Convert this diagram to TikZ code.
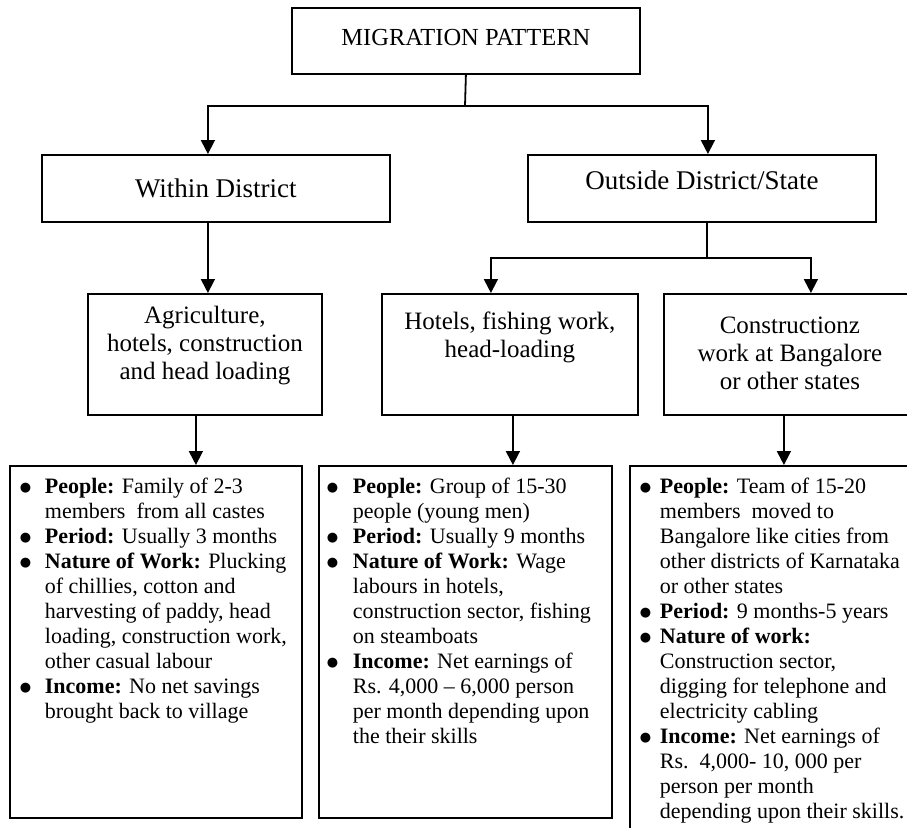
\documentclass[tikz,border=0pt]{standalone}
\usepackage{fontspec}
\setmainfont{Liberation Serif}
\newfontfamily\dotfont{DejaVu Sans}
\usetikzlibrary{positioning,arrows.meta}

\newlength\dotgap
\newlength\textgap
\newcommand{\bigdot}{\raisebox{2.5pt}{\dotfont\fontsize{13}{13}\selectfont ●}}
\newcommand{\firstgap}{\rule{0pt}{28pt}}
\newcommand{\entry}[2]{\par\noindent\hangindent=\textgap\hangafter=1%
  \makebox[\textgap][l]{\hspace{\dotgap}\bigdot}\textbf{#1} #2}
\newcommand{\textbox}[4]{\parbox[c][#2][t]{#1}{\centering
  \fontsize{25}{28}\selectfont\rule{0pt}{#3}#4}}
\newcommand{\listbox}[5]{\parbox[c][#2][t]{#1}{\fontsize{22}{25}\selectfont
  \setlength\dotgap{#3}\setlength\textgap{#4}\parskip=0pt
  \rightskip=-60pt plus 1fil #5}}

\begin{document}
\begin{tikzpicture}[x=1pt,y=-1pt,
    box/.style={draw, line width=1.8pt, inner sep=0pt},
    link/.style={line width=1.8pt},
    tolink/.style={link, -{Triangle[width=14pt,length=14pt]}}]
  \useasboundingbox (0,0) rectangle (907,827);
  \fill[white] (0,0) rectangle (907,827);
  \clip (0,0) rectangle (907,827);

  % top levels
  \node[box, anchor=north west, minimum width=348pt, minimum height=66pt,
    font=\fontsize{24.5}{28}\selectfont, text height=16pt, text depth=6pt]
    (pattern) at (291,7) {MIGRATION PATTERN};
  \node[box, anchor=north west, minimum width=348pt, minimum height=67pt,
    font=\fontsize{27}{30}\selectfont, text height=18pt, text depth=0pt]
    (within) at (41,154) {Within District};
  \node[box, anchor=north west, minimum width=348pt, minimum height=67pt,
    font=\fontsize{27}{30}\selectfont, text height=18pt, text depth=15pt]
    (outside) at (527,154) {Outside District/State};

  % kinds of work
  \node[box, anchor=north west] (agri) at (87,293)
    {\textbox{234pt}{121pt}{30pt}{Agriculture,\\ hotels, construction\\ and head loading}};
  \node[box, anchor=north west] (hotels) at (381,293)
    {\textbox{256pt}{121pt}{36pt}{Hotels, fishing work,\\ head-loading}};
  \node[box, anchor=north west] (construct) at (663,293)
    {\textbox{252pt}{121pt}{40pt}{Constructionz\\ work at Bangalore\\ or other states}};

  % details
  \node[box, anchor=north west] (localinfo) at (9,465)
    {\listbox{292pt}{352pt}{10pt}{35pt}{%
      \entry{People:}{\firstgap Family of 2-3\\ members\ \ from all castes}
      \entry{Period:}{Usually 3 months}
      \entry{Nature of Work:}{Plucking\\ of chillies, cotton and\\ harvesting of paddy, head\\ loading, construction work,\\ other casual labour}
      \entry{Income:}{No net savings\\ brought back to village}}};
  \node[box, anchor=north west] (hotelinfo) at (318,465)
    {\listbox{293pt}{352pt}{8pt}{34pt}{%
      \entry{People:}{\firstgap Group of 15-30\\ people (young men)}
      \entry{Period:}{Usually 9 months}
      \entry{Nature of Work:}{Wage\\ labours in hotels,\\ construction sector, fishing\\ on steamboats}
      \entry{Income:}{Net earnings of\\ Rs. 4,000 -- 6,000 person\\ per month depending upon\\ the their skills}}};
  \node[box, anchor=north west] (buildinfo) at (629,465)
    {\listbox{290pt}{380pt}{10pt}{30pt}{%
      \entry{People:}{\firstgap Team of 15-20\\ members\ \ moved to\\ Bangalore like cities from\\ other districts of Karnataka\\ or other states}
      \entry{Period:}{9 months-5 years}
      \entry{Nature of work:}{\\ Construction sector,\\ digging for telephone and\\ electricity cabling}
      \entry{Income:}{Net earnings of\\ Rs.\ \ 4,000- 10, 000 per\\ person per month\\ depending upon their skills.}}};

  % connectors
  \coordinate (fork) at (465,106);
  \draw[link] (pattern.south) -- (fork);
  \draw[tolink] (fork) -| ([xshift=-8pt]within.north);
  \draw[tolink] (fork) -| ([xshift=6pt]outside.north);
  \draw[tolink] ([xshift=-8pt]within.south) -- ([xshift=-8pt]within.south |- agri.north);
  \coordinate (subfork) at (707,258);
  \draw[link] (outside.south -| subfork) -- (subfork);
  \draw[tolink] (subfork) -| ([xshift=-19pt]hotels.north);
  \draw[tolink] (subfork) -| ([xshift=21pt]construct.north);
  \draw[tolink] ([xshift=-9pt]agri.south) -- ([xshift=-9pt]agri.south |- localinfo.north);
  \draw[tolink] ([xshift=3pt]hotels.south) -- ([xshift=3pt]hotels.south |- hotelinfo.north);
  \draw[tolink] ([xshift=-6pt]construct.south) -- ([xshift=-6pt]construct.south |- buildinfo.north);
\end{tikzpicture}
\end{document}
